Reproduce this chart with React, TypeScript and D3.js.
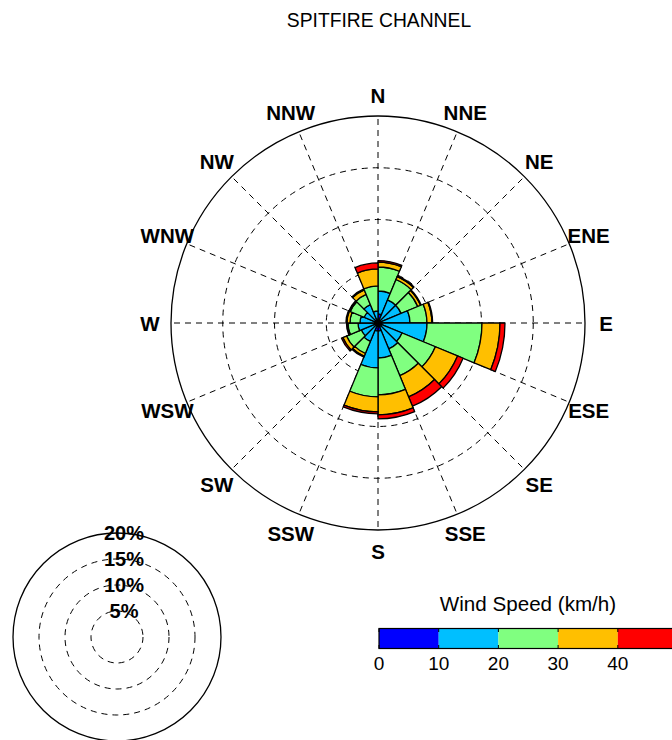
import React from "react";
import * as d3 from "d3";

const directions = ["N","NNE","NE","ENE","E","ESE","SE","SSE","S","SSW","SW","WSW","W","WNW","NW","NNW"];
const speedBins = ["0-10","10-20","20-30","30-40","40+"];
const binColors = ["#0000FF","#00BFFF","#80FF80","#FFBF00","#FF0000"];
// percentage of time per sector (sector i spans direction i .. i+1, clockwise) per speed bin
const bin0 = [0.87,0.29,0.29,0.29,0.39,0.39,0.39,0.77,0.77,0.29,0.29,0.29,0.29,0.29,0.29,0.39];
const bin1 = [2.22,2.13,2.13,2.80,4.35,2.13,2.32,2.61,3.57,1.64,1.45,1.64,1.45,1.16,1.64,0.77];
const bin2 = [2.32,2.13,1.74,1.64,5.31,3.48,2.80,3.57,2.80,1.26,1.55,0.97,0.97,1.45,1.06,2.42];
const bin3 = [0.48,0.29,0.29,0.48,1.74,2.32,2.22,1.93,1.45,0.29,0.39,0.10,0.29,0.10,0.48,1.64];
const bin4 = [0.14,0.08,0.07,0.07,0.48,0.58,0.97,0.39,0.19,0.10,0.14,0.05,0.10,0.05,0.10,0.58];
const ringPercents = [5,10,15,20];
const legendTicks = [0,10,20,30,40];
const legendEdges = [0,10,20,30,40,50];
const title = "SPITFIRE CHANNEL";
const legendTitle = "Wind Speed (km/h)";

export default function App() {
  const cx = 378, cy = 323, R = 207;
  const rScale = d3.scaleLinear().domain([0, 20]).range([0, R]);
  const bins = [bin0, bin1, bin2, bin3, bin4];
  const step = (2 * Math.PI) / directions.length;
  const arc = d3.arc<any>();

  const wedges: any[] = [];
  directions.forEach((_, i) => {
    let cum = 0;
    bins.forEach((b, k) => {
      const inner = cum;
      cum += b[i];
      wedges.push({
        key: `${i}-${k}`,
        d: arc({ innerRadius: rScale(inner), outerRadius: rScale(cum), startAngle: i * step, endAngle: (i + 1) * step }),
        fill: binColors[k],
      });
    });
  });

  // small scale legend
  const scx = 117, scy = 637, sR = 104;
  const sScale = d3.scaleLinear().domain([0, 20]).range([0, sR]);

  // colorbar
  const cb = d3.scaleLinear().domain([0, 50]).range([379, 677.5]);
  const cbTop = 628.5, cbH = 20;

  return (
    <svg width={672} height={740} style={{ position: "absolute", left: 0, top: 0, background: "#fff" }}
      fontFamily="'Liberation Sans', Arial, sans-serif">
      <text x={cx + 1} y={27} textAnchor="middle" fontSize={19.3} fill="#000">{title}</text>

      {/* grid */}
      {ringPercents.slice(0, 3).map((p) => (
        <circle key={p} cx={cx} cy={cy} r={rScale(p)} fill="none" stroke="#000" strokeWidth={1} strokeDasharray="6,5" />
      ))}
      {directions.map((_, i) => {
        const a = i * step;
        return (
          <line key={i} x1={cx} y1={cy} x2={cx + R * Math.sin(a)} y2={cy - R * Math.cos(a)}
            stroke="#000" strokeWidth={1} strokeDasharray="6,5" />
        );
      })}
      <circle cx={cx} cy={cy} r={R} fill="none" stroke="#000" strokeWidth={1.3} />

      <g transform={`translate(${cx},${cy})`}>
        {wedges.map((w) => (
          <path key={w.key} d={w.d} fill={w.fill} stroke="#000" strokeWidth={1.3} strokeLinejoin="round" />
        ))}
      </g>

      {directions.map((lab, i) => {
        const a = i * step;
        const rr = R + 21;
        return (
          <text key={lab} x={cx + rr * Math.sin(a)} y={cy - rr * Math.cos(a)} textAnchor="middle"
            dominantBaseline="central" fontSize={20.5} fontWeight="bold" fill="#000">{lab}</text>
        );
      })}

      {/* scale circles */}
      {ringPercents.map((p) => (
        <circle key={p} cx={scx} cy={scy} r={sScale(p)} fill="none" stroke="#000"
          strokeWidth={p === 20 ? 1.3 : 1} strokeDasharray={p === 20 ? undefined : "6,5"} />
      ))}
      {ringPercents.map((p) => (
        <text key={p} x={scx + 7} y={scy - sScale(p)} textAnchor="middle" dominantBaseline="central"
          fontSize={20} fontWeight="bold" fill="#000">{`${p}%`}</text>
      ))}

      {/* colorbar legend */}
      <text x={528} y={611} textAnchor="middle" fontSize={20.6} fill="#000">{legendTitle}</text>
      {binColors.map((c, k) => (
        <rect key={c} x={cb(legendEdges[k])} y={cbTop} width={cb(legendEdges[k + 1]) - cb(legendEdges[k])}
          height={cbH} fill={c} />
      ))}
      <rect x={cb(0)} y={cbTop} width={cb(50) - cb(0)} height={cbH} fill="none" stroke="#000" strokeWidth={1.2} />
      {legendTicks.map((t) => (
        <g key={t}>
          <line x1={cb(t)} x2={cb(t)} y1={cbTop} y2={cbTop + 3.5} stroke="#000" strokeWidth={1} />
          <line x1={cb(t)} x2={cb(t)} y1={cbTop + cbH} y2={cbTop + cbH - 3.5} stroke="#000" strokeWidth={1} />
          <text x={cb(t)} y={670} textAnchor="middle" fontSize={19} fill="#000">{t}</text>
        </g>
      ))}
    </svg>
  );
}
